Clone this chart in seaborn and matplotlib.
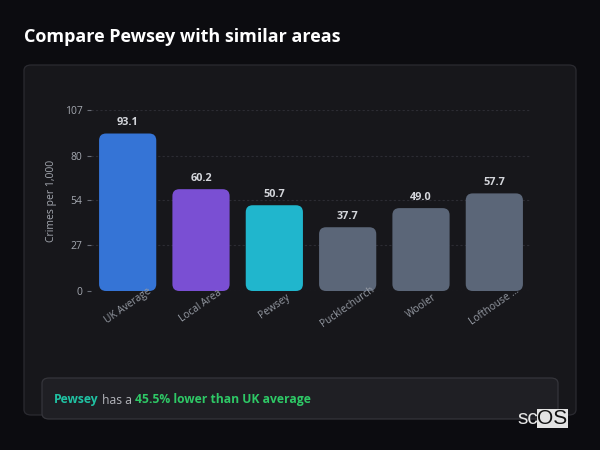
import matplotlib
matplotlib.use("Agg")
import matplotlib.pyplot as plt
from matplotlib.patches import FancyBboxPatch
import seaborn as sns
import pandas as pd

categories = ["UK Average", "Local Area", "Pewsey", "Pucklechurch", "Wooler", "Lofthouse ..."]
values = [93.1, 60.2, 50.7, 37.7, 49.0, 57.7]
bar_colors = ["#3574d6", "#7a4fd3", "#20b6cd", "#5b6678", "#5b6678", "#5b6678"]
y_ticks = [0, 27, 54, 80, 107]
title = "Compare Pewsey with similar areas"
y_label = "Crimes per 1,000"

BG = "#0c0c10"
CARD = "#17171b"

sns.set_theme(style="dark")
plt.rcParams["font.family"] = ["Open Sans", "DejaVu Sans"]

fig = plt.figure(figsize=(6, 4.5), dpi=100, facecolor=BG)
W, H = 600, 450

def fx(px):
    return px / W

def fy(py):
    return 1 - py / H

# card
card = FancyBboxPatch((fx(24), fy(415)), fx(576) - fx(24), fy(65) - fy(415),
                      boxstyle="round,pad=0,rounding_size=0.012",
                      transform=fig.transFigure, facecolor=CARD,
                      edgecolor="#2b2b31", linewidth=0.9, zorder=-5)
fig.patches.append(card)

# info box
info = FancyBboxPatch((fx(42), fy(419)), fx(558) - fx(42), fy(378) - fy(419),
                      boxstyle="round,pad=0,rounding_size=0.012",
                      transform=fig.transFigure, facecolor="#1f1f24",
                      edgecolor="#35353b", linewidth=0.9, zorder=-4)
fig.patches.append(info)

fig.text(fx(24), fy(37), title, color="#ffffff", fontsize=13,
         fontweight="bold", ha="left", va="center")

ax = fig.add_axes([fx(91), fy(291), fx(531) - fx(91), fy(110) - fy(291)])
ax.set_zorder(2)
ax.set_facecolor("none")

df = pd.DataFrame({"cat": categories, "val": values})
sns.barplot(data=df, x="cat", y="val", hue="cat", palette=bar_colors,
            legend=False, width=0.78, ax=ax, saturation=1)

ax.set_xlim(-0.5, len(categories) - 0.5)
ax.set_ylim(0, 107)

# rounded bars
px_per_x = (531 - 91) / len(categories)
px_per_y = (291 - 110) / 107
aspect = px_per_x / px_per_y
old = list(ax.patches)
for p in old:
    x, y = p.get_x(), p.get_y()
    w, h = p.get_width(), p.get_height()
    fc = p.get_facecolor()
    p.remove()
    rb = FancyBboxPatch((x, y), w, h,
                        boxstyle="round,pad=0,rounding_size=0.095",
                        mutation_aspect=aspect, facecolor=fc,
                        edgecolor="none", zorder=1)
    ax.add_patch(rb)
    ax.annotate(f"{h:.1f}", (x + w / 2, h), xytext=(0, 8),
                textcoords="offset points", ha="center", va="center",
                color="#d4d6db", fontsize=7.8, fontweight="bold", zorder=4)

ax.set_yticks(y_ticks)
ax.set_yticklabels([str(t) for t in y_ticks])
ax.yaxis.grid(True, color="#2c2c33", linestyle=(0, (2, 2)), linewidth=0.8)
ax.xaxis.grid(False)
ax.set_axisbelow(True)
for s in ax.spines.values():
    s.set_visible(False)

ax.tick_params(axis="y", length=3, width=0.8, color="#6b6f78", pad=3,
               labelsize=7.5, labelcolor="#a4a8b0", left=True)
ax.tick_params(axis="x", length=0, pad=11, labelsize=7.3, labelcolor="#959aa3")
ax.set_xticks(range(len(categories)))
ax.set_xticklabels(categories)
for lab in ax.get_xticklabels():
    lab.set_rotation(35)
    lab.set_ha("center")
    lab.set_va("center")
    lab.set_rotation_mode("anchor")
ax.xaxis.set_zorder(5)

ax.set_xlabel("")
ax.set_ylabel(y_label, color="#a4a8b0", fontsize=7.5, labelpad=6)

# info text with colored segments
fig.canvas.draw()
renderer = fig.canvas.get_renderer()
segments = [("Pewsey", "#1fc2a3", "bold"),
            (" has a ", "#b3b5bb", "normal"),
            ("45.5% lower than UK average", "#2ec866", "bold")]
xpos = 54
for txt, col, wt in segments:
    t = fig.text(fx(xpos), fy(400), txt, color=col, fontsize=8.7,
                 fontweight=wt, ha="left", va="center")
    bb = t.get_window_extent(renderer=renderer)
    xpos += bb.width

# watermark
fig.text(fx(517), fy(418.5), "sc", color="#e6e6e6", fontsize=15,
         ha="left", va="center",
         family=["Liberation Sans", "DejaVu Sans"])
fig.text(fx(537.5), fy(418.5), "OS", color="#111111", fontsize=15,
         ha="left", va="center",
         family=["Liberation Sans", "DejaVu Sans"],
         bbox=dict(boxstyle="square,pad=0.02", facecolor="#e3e3e3",
                   edgecolor="none"))

fig.savefig("out.png", dpi=100, facecolor=BG)
